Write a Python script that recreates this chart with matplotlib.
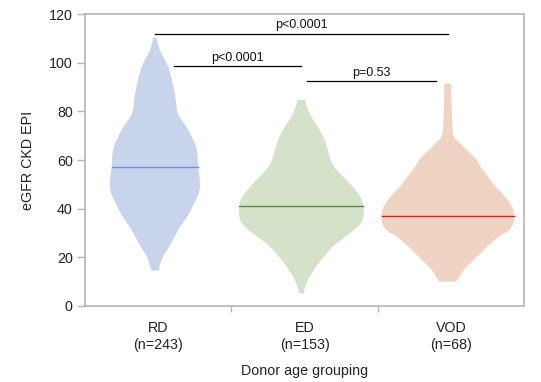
import numpy as np
import matplotlib
matplotlib.use("Agg")
import matplotlib.pyplot as plt

plt.rcParams['font.family'] = ['Liberation Sans', 'DejaVu Sans']

# groups and medians
groups = ['RD', 'ED', 'VOD']
counts = [243, 153, 68]
medians = [57.0, 41.2, 37.1]
fill_colors = ['#c8d3ec', '#d3e2c8', '#efd3c3']
median_colors = ['#6f8fd6', '#5a8a3e', '#e0201c']

# violin outlines: eGFR level -> half width (category units)
rd_y = [110.3, 105.2, 102.5, 99.7, 97, 92.9, 86, 79.3, 75.1, 72.3, 66.8, 62.7,
        57, 50.5, 46.3, 43.6, 40.1, 36.7, 33.4, 30, 24.4, 20.3, 16.8, 14.5]
rd_w = [0.010, 0.034, 0.057, 0.080, 0.098, 0.116, 0.139, 0.156, 0.200, 0.228, 0.273, 0.289,
        0.296, 0.308, 0.299, 0.279, 0.251, 0.220, 0.182, 0.148, 0.097, 0.055, 0.034, 0.027]

ed_y = [84.7, 82, 80, 77, 75, 71, 68, 64, 61, 58, 55, 51, 47, 44, 41, 38, 35,
        32, 28.5, 25, 21.5, 18, 14.5, 11, 8, 5.2]
ed_w = [0.025, 0.038, 0.051, 0.075, 0.099, 0.137, 0.161, 0.181, 0.195, 0.215, 0.255, 0.320, 0.378,
        0.410, 0.424, 0.426, 0.415, 0.375, 0.300, 0.226, 0.171, 0.123, 0.082, 0.048, 0.027, 0.016]

vod_y = [91.5, 81, 72, 69, 67.5, 64, 60.7, 57, 53.8, 49.7, 45, 41, 37.1, 34, 31,
         28.5, 25, 21.6, 18.5, 16.2, 14, 12, 10]
vod_w = [0.023, 0.027, 0.034, 0.048, 0.075, 0.130, 0.188, 0.226, 0.267, 0.318, 0.390, 0.437,
         0.452, 0.448, 0.415, 0.350, 0.280, 0.222, 0.171, 0.130, 0.099, 0.080, 0.057]

profiles = [(rd_y, rd_w), (ed_y, ed_w), (vod_y, vod_w)]

# significance brackets (x in category units, y in eGFR)
sig_x0 = [0.478, 0.608, 1.515]
sig_x1 = [2.479, 1.476, 2.399]
sig_y = [112.0, 98.8, 92.6]
sig_text = ['p<0.0001', 'p<0.0001', 'p=0.53']


def smooth_outline(ys, ws, n=16):
    # Catmull-Rom curve through the read points, only to draw a smooth edge
    p = np.column_stack([ys, ws])
    p = np.vstack([p[0], p, p[-1]])
    out = []
    t = np.linspace(0, 1, n, endpoint=False)[:, None]
    for k in range(1, len(p) - 2):
        p0, p1, p2, p3 = p[k - 1], p[k], p[k + 1], p[k + 2]
        seg = 0.5 * ((2 * p1) + (-p0 + p2) * t + (2 * p0 - 5 * p1 + 4 * p2 - p3) * t ** 2
                     + (-p0 + 3 * p1 - 3 * p2 + p3) * t ** 3)
        out.append(seg)
    out.append(p[-2][None, :])
    out = np.vstack(out)
    return out[:, 0], np.clip(out[:, 1], 0, None)


fig = plt.figure(figsize=(5.41, 3.82), dpi=100)
ax = fig.add_axes([0.157, 0.199, 0.812, 0.764])

shift = -0.022
for i, (ys, ws) in enumerate(profiles):
    c = i + 0.5 + shift
    sy, sw = smooth_outline(ys, ws)
    xs = np.concatenate([c - sw, (c + sw)[::-1]])
    yy = np.concatenate([sy, sy[::-1]])
    ax.fill(xs, yy, color=fill_colors[i], linewidth=0, zorder=1)
    hw = np.interp(medians[i], sy[::-1], sw[::-1])
    ax.plot([c - hw, c + hw], [medians[i]] * 2, color=median_colors[i], lw=1.0, zorder=2)

for x0, x1, y, t in zip(sig_x0, sig_x1, sig_y, sig_text):
    ax.plot([x0, x1], [y, y], color='black', lw=0.9, zorder=3)
    ax.text((x0 + x1) / 2, y + 0.9, t, ha='center', va='bottom', fontsize=9, color='#111111')

ax.set_xlim(0, 3)
ax.set_ylim(0, 120)
ax.set_yticks(np.arange(0, 121, 20))
ax.set_xticks([0.5, 1.5, 2.5])
ax.set_xticklabels([f'{g}\n(n={n})' for g, n in zip(groups, counts)], linespacing=1.3)
ax.set_xticks([1, 2], minor=True)

for s in ax.spines.values():
    s.set_color('#b4b4b4')
    s.set_linewidth(1.2)

ax.tick_params(axis='y', length=5.8, width=1, color='#b4b4b4', labelsize=10.3, pad=3, labelcolor='#222222')
ax.tick_params(axis='x', which='major', length=0, pad=10.5, labelsize=10.3, labelcolor='#222222')
ax.tick_params(axis='x', which='minor', length=4.3, width=1, color='#b4b4b4')

ax.set_ylabel('eGFR CKD EPI', fontsize=10.3, color='#222222', labelpad=10)
ax.set_xlabel('Donor age grouping', fontsize=10.3, color='#222222', labelpad=9)

fig.savefig('out.png', dpi=100)
